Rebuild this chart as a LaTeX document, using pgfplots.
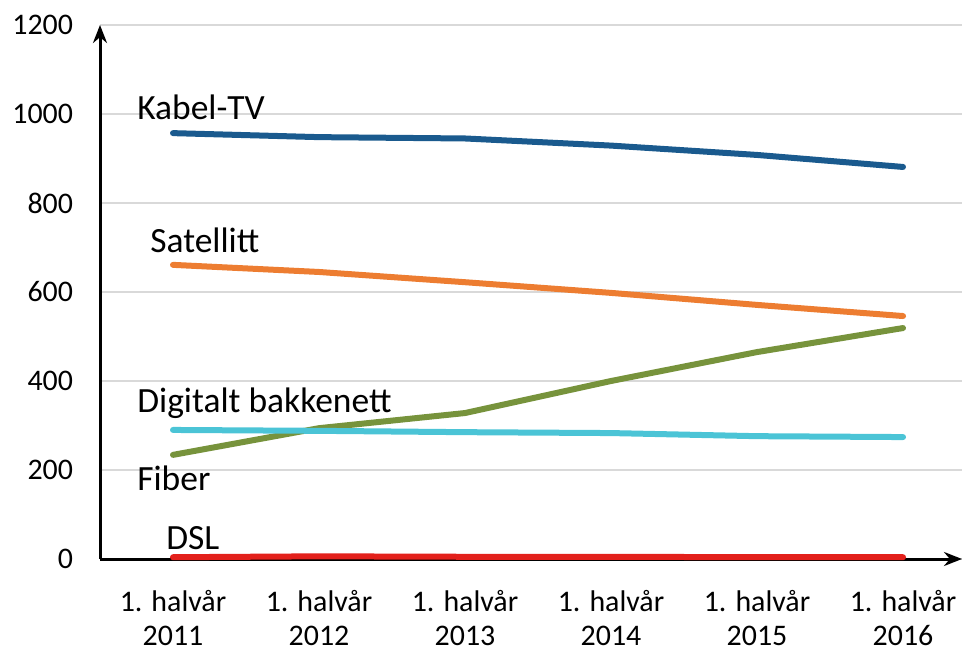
\documentclass[border=0pt]{standalone}
\usepackage{pgfplots}
\pgfplotsset{compat=1.18}
\usetikzlibrary{arrows.meta}
\usepackage{fontspec}
\setmainfont{Carlito}
\definecolor{kabel}{HTML}{1A5A8E}
\definecolor{sat}{HTML}{ED7D31}
\definecolor{fib}{HTML}{77933C}
\definecolor{dig}{HTML}{4BC4D6}
\definecolor{dsl}{HTML}{E3201B}
\definecolor{gridc}{HTML}{D9D9D9}
\begin{document}
\begin{tikzpicture}
\begin{axis}[
  scale only axis,
  width=431bp, height=267bp,
  xmin=-0.5, xmax=5.404,
  ymin=0, ymax=1200,
  axis lines=left,
  axis line style={line width=1.5bp, black, -{Stealth[length=9bp,width=7bp]}},
  xtick={0,1,2,3,4,5},
  xticklabels={{1. halvår\\2011},{1. halvår\\2012},{1. halvår\\2013},{1. halvår\\2014},{1. halvår\\2015},{1. halvår\\2016}},
  xticklabel style={align=center, font=\fontsize{15}{17}\selectfont, yshift=-12bp},
  ytick={0,200,400,600,800,1000,1200},
  yticklabel style={font=\fontsize{15}{17}\selectfont, xshift=-10bp},
  /pgf/number format/assume math mode=true,
  /pgf/number format/1000 sep={},
  major tick length=0pt,
  ymajorgrids,
  grid style={gridc, line width=0.8bp},
  clip=false,
  every axis plot/.append style={line width=3bp, line cap=round, line join=round},
]
\addplot[kabel] coordinates {(0,957) (1,948) (2,945) (3,929) (4,908) (5,881)};
\addplot[sat] coordinates {(0,661) (1,645) (2,622) (3,598) (4,571) (5,546)};
\addplot[fib] coordinates {(0,234) (1,294) (2,328) (3,400) (4,465) (5,519)};
\addplot[dig] coordinates {(0,290) (1,288) (2,285) (3,283) (4,276) (5,274)};
\addplot[dsl] coordinates {(0,4) (1,6) (2,5) (3,5) (4,4) (5,4)};
\node[anchor=west, inner sep=0pt, font=\fontsize{17.8}{20}\selectfont] at (axis cs:-0.247,1016) {Kabel-TV};
\node[anchor=west, inner sep=0pt, font=\fontsize{17.8}{20}\selectfont] at (axis cs:-0.158,717) {Satellitt};
\node[anchor=west, inner sep=0pt, font=\fontsize{17.8}{20}\selectfont] at (axis cs:-0.247,351) {Digitalt bakkenett};
\node[anchor=west, inner sep=0pt, font=\fontsize{17.8}{20}\selectfont] at (axis cs:-0.247,182) {Fiber};
\node[anchor=west, inner sep=0pt, font=\fontsize{17.8}{20}\selectfont] at (axis cs:-0.048,47) {DSL};
\end{axis}
\pgfresetboundingbox
\path ([xshift=-50bp,yshift=-46bp]current axis.south west) rectangle ([xshift=3.5bp,yshift=12.5bp]current axis.north east);
\end{tikzpicture}
\end{document}
